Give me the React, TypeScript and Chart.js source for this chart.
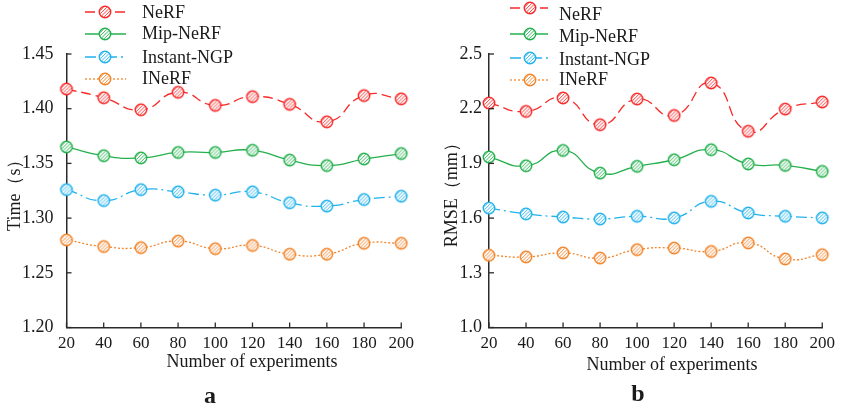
import React, { useEffect, useRef } from "react";
import { Chart, registerables } from "chart.js";

Chart.register(...registerables);

const FONT = "'Liberation Serif', 'Times New Roman', serif";
const INK = "#1a1a1a";
const AXIS = "#2a2a2a";

// ---------- data ----------
const xLabels = ["20", "40", "60", "80", "100", "120", "140", "160", "180", "200"];
const seriesNames = ["NeRF", "Mip-NeRF", "Instant-NGP", "INeRF"];

const timeNeRF = [1.418, 1.41, 1.399, 1.415, 1.403, 1.411, 1.404, 1.388, 1.412, 1.409];
const timeMipNeRF = [1.365, 1.357, 1.355, 1.36, 1.36, 1.362, 1.353, 1.348, 1.354, 1.359];
const timeInstantNGP = [1.326, 1.316, 1.326, 1.324, 1.321, 1.324, 1.314, 1.311, 1.317, 1.32];
const timeINeRF = [1.28, 1.274, 1.273, 1.279, 1.272, 1.275, 1.267, 1.267, 1.277, 1.277];

const rmseNeRF = [2.231, 2.185, 2.259, 2.112, 2.253, 2.163, 2.341, 2.076, 2.198, 2.237];
const rmseMipNeRF = [1.935, 1.887, 1.971, 1.847, 1.884, 1.92, 1.975, 1.897, 1.889, 1.856];
const rmseInstantNGP = [1.655, 1.623, 1.606, 1.595, 1.61, 1.601, 1.692, 1.628, 1.61, 1.601];
const rmseINeRF = [1.396, 1.387, 1.409, 1.381, 1.427, 1.436, 1.417, 1.464, 1.376, 1.399];

const timeTicks = [1.2, 1.25, 1.3, 1.35, 1.4, 1.45];
const rmseTicks = [1.0, 1.3, 1.6, 1.9, 2.2, 2.5];

const colors = ["#f72a2a", "#25b04e", "#22b2ec", "#f2842a"];
const dashes: number[][] = [[10, 5], [], [11, 4, 2, 4], [2, 2]];

// ---------- marker ----------
function makeMarker(color: string): HTMLCanvasElement {
  const s = 16;
  const c = document.createElement("canvas");
  c.width = s;
  c.height = s;
  const g = c.getContext("2d")!;
  const cx = s / 2, cy = s / 2, r = 5.7;
  g.beginPath();
  g.arc(cx, cy, r, 0, Math.PI * 2);
  g.fillStyle = "#ffffff";
  g.fill();
  g.save();
  g.beginPath();
  g.arc(cx, cy, r - 0.8, 0, Math.PI * 2);
  g.clip();
  g.strokeStyle = color;
  g.lineWidth = 0.9;
  for (let k = -s - 0.5; k < 2 * s; k += 3.4) {
    g.beginPath();
    g.moveTo(k, s);
    g.lineTo(k + s, 0);
    g.stroke();
  }
  g.restore();
  g.beginPath();
  g.arc(cx, cy, r, 0, Math.PI * 2);
  g.strokeStyle = color;
  g.lineWidth = 1.5;
  g.stroke();
  return c;
}

type Panel = {
  series: number[][];
  ticks: number[];
  digits: number;
  yTitle: string;
  padLeft: number;
  padRight: number;
  yWidth: number;
  yTickPad: number;
  legend: { x0: number; x1: number; cx: number; tx: number; sy: number[]; ty: number[] };
  xTitle: { x: number; y: number };
  letter: { text: string; x: number; y: number };
};

const decorPlugin = {
  id: "decor",
  afterDatasetsDraw(chart: any, _args: any, opts: any) {
    const ctx: CanvasRenderingContext2D = chart.ctx;
    const { left, bottom } = chart.chartArea;
    const xs = chart.scales.x;
    const ys = chart.scales.y;
    ctx.save();
    // inner tick marks
    ctx.strokeStyle = AXIS;
    ctx.lineWidth = 1.3;
    ctx.setLineDash([]);
    xs.ticks.forEach((_t: any, i: number) => {
      const px = xs.getPixelForTick(i);
      ctx.beginPath();
      ctx.moveTo(px, bottom);
      ctx.lineTo(px, bottom - 5);
      ctx.stroke();
    });
    ys.ticks.forEach((_t: any, i: number) => {
      const py = ys.getPixelForTick(i);
      ctx.beginPath();
      ctx.moveTo(left, py);
      ctx.lineTo(left + 5, py);
      ctx.stroke();
    });
    // legend
    const lg = opts.legend;
    chart.data.datasets.forEach((ds: any, i: number) => {
      const y = lg.sy[i];
      ctx.strokeStyle = ds.borderColor;
      ctx.lineWidth = 1.3;
      ctx.setLineDash(ds.borderDash || []);
      ctx.beginPath();
      ctx.moveTo(lg.x0, y);
      ctx.lineTo(lg.x1, y);
      ctx.stroke();
      ctx.setLineDash([]);
      const img = ds.pointStyle as HTMLCanvasElement;
      ctx.drawImage(img, lg.cx - img.width / 2, y - img.height / 2);
      ctx.fillStyle = INK;
      ctx.font = `18px ${FONT}`;
      ctx.textAlign = "left";
      ctx.textBaseline = "middle";
      ctx.fillText(ds.label, lg.tx, lg.ty[i]);
    });
    // x title
    ctx.fillStyle = INK;
    ctx.font = `18px ${FONT}`;
    ctx.textAlign = "center";
    ctx.textBaseline = "middle";
    ctx.fillText(opts.xTitleText, opts.xTitle.x, opts.xTitle.y);
    // panel letter
    ctx.font = `bold 24px ${FONT}`;
    ctx.fillText(opts.letter.text, opts.letter.x, opts.letter.y);
    ctx.restore();
  },
};

function buildConfig(p: Panel): any {
  return {
    type: "line",
    data: {
      labels: xLabels,
      datasets: p.series.map((vals, i) => ({
        label: seriesNames[i],
        data: vals,
        borderColor: colors[i],
        backgroundColor: colors[i],
        borderWidth: 1.3,
        borderDash: dashes[i],
        pointStyle: makeMarker(colors[i]),
        pointRadius: 6,
        tension: 0.55,
        fill: false,
        clip: false,
      })),
    },
    options: {
      animation: false,
      responsive: false,
      maintainAspectRatio: false,
      events: [],
      layout: { padding: { left: p.padLeft, right: p.padRight, top: 54, bottom: 0 } },
      plugins: {
        legend: { display: false },
        tooltip: { enabled: false },
        title: { display: false },
        decor: {
          legend: p.legend,
          xTitle: p.xTitle,
          xTitleText: "Number of experiments",
          letter: p.letter,
        },
      },
      scales: {
        x: {
          type: "category",
          offset: false,
          grid: { display: false, drawTicks: false },
          border: { display: true, color: AXIS, width: 1.5 },
          ticks: {
            font: { family: FONT, size: 17 },
            color: INK,
            padding: 6,
            maxRotation: 0,
            autoSkip: false,
          },
          afterFit: (s: any) => {
            s.height = 85.5;
          },
        },
        y: {
          min: p.ticks[0],
          max: p.ticks[p.ticks.length - 1],
          grid: { display: false, drawTicks: false },
          border: { display: true, color: AXIS, width: 1.5 },
          afterBuildTicks: (s: any) => {
            s.ticks = p.ticks.map((v) => ({ value: v }));
          },
          ticks: {
            font: { family: FONT, size: 18 },
            color: INK,
            padding: p.yTickPad,
            callback: (v: any) => Number(v).toFixed(p.digits),
          },
          title: {
            display: true,
            text: p.yTitle,
            font: { family: FONT, size: 18 },
            color: INK,
            padding: 4,
          },
          afterFit: (s: any) => {
            s.width = p.yWidth;
          },
        },
      },
    },
    plugins: [decorPlugin],
  };
}

const panelA: Panel = {
  series: [timeNeRF, timeMipNeRF, timeInstantNGP, timeINeRF],
  ticks: timeTicks,
  digits: 2,
  yTitle: "Time（s）",
  padLeft: 0,
  padRight: 13.5,
  yWidth: 66.5,
  yTickPad: 13,
  legend: { x0: 85, x1: 126, cx: 105, tx: 142, sy: [12, 34, 57, 79], ty: [13, 34, 58, 79] },
  xTitle: { x: 252, y: 362 },
  letter: { text: "a", x: 210, y: 397 },
};

const panelB: Panel = {
  series: [rmseNeRF, rmseMipNeRF, rmseInstantNGP, rmseINeRF],
  ticks: rmseTicks,
  digits: 1,
  yTitle: "RMSE（mm）",
  padLeft: 17.7,
  padRight: 12,
  yWidth: 51.3,
  yTickPad: 7,
  legend: { x0: 90, x1: 128, cx: 110, tx: 139, sy: [8, 34, 58, 80], ty: [15, 37, 60, 80] },
  xTitle: { x: 252, y: 365 },
  letter: { text: "b", x: 218, y: 395 },
};

function ChartPanel({ panel, left, width }: { panel: Panel; left: number; width: number }) {
  const ref = useRef<HTMLCanvasElement | null>(null);
  useEffect(() => {
    if (!ref.current) return;
    const chart = new Chart(ref.current, buildConfig(panel));
    return () => chart.destroy();
  }, [panel]);
  return (
    <canvas
      ref={ref}
      width={width}
      height={413}
      style={{ position: "absolute", left, top: 0, width, height: 413, display: "block" }}
    />
  );
}

export default function App() {
  return (
    <div
      style={{
        position: "fixed",
        left: 0,
        top: 0,
        width: 841,
        height: 413,
        background: "#ffffff",
        overflow: "hidden",
      }}
    >
      <ChartPanel panel={panelA} left={0} width={420} />
      <ChartPanel panel={panelB} left={420} width={421} />
    </div>
  );
}
